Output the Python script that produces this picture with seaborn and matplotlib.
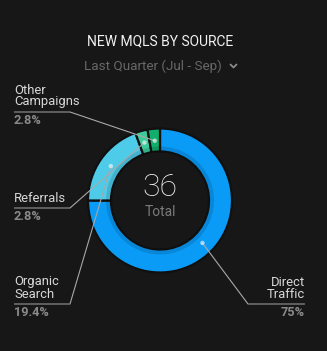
import numpy as np
import matplotlib
matplotlib.use("Agg")
import matplotlib.pyplot as plt
import seaborn as sns

# Lead sources for the quarter, clockwise from 12 o'clock
sources = ["Direct Traffic", "Organic Search", "Referrals", "Other Campaigns"]
label_lines = [["Direct", "Traffic"], ["Organic", "Search"], ["Referrals"], ["Other", "Campaigns"]]
counts = [27, 7, 1, 1]
colors = ["#0A9BF7", "#4FCBEA", "#3CCC9C", "#12AE6B"]

title = "NEW MQLS BY SOURCE"
period = "Last Quarter (Jul - Sep)"
center_caption = "Total"

BG = "#171717"
W, H = 327, 351

sns.set_theme(style="dark")
plt.rcParams["font.family"] = ["Roboto", "DejaVu Sans"]

fig = plt.figure(figsize=(W / 100, H / 100), dpi=100, facecolor=BG)
ax = fig.add_axes([0, 0, 1, 1])
ax.set_facecolor(BG)


def fy(y):
    """Convert a top-down pixel row into the axes' bottom-up coordinate."""
    return H - y


cx, cy = 160, fy(200.5)
r_out, ring_w = 72, 23

wedges, _ = ax.pie(
    counts, colors=colors, startangle=90, counterclock=False,
    radius=r_out, center=(cx, cy),
    wedgeprops=dict(width=ring_w, edgecolor="#101010", linewidth=1.6),
)
# subtle darker band along the inner edge of the ring
ax.pie(
    counts, colors=["#000000"] * len(counts), startangle=90, counterclock=False,
    radius=r_out - ring_w + 5, center=(cx, cy),
    wedgeprops=dict(width=5, edgecolor="none", linewidth=0, alpha=0.13),
)

ax.set_xlim(0, W)
ax.set_ylim(0, H)
ax.set_aspect("equal")
ax.axis("off")

total = sum(counts)


def fmt_pct(v):
    s = f"{100 * v / total:.1f}".rstrip("0").rstrip(".")
    return s + "%"


# label anchor: (underline x start, underline x end, underline row, side)
anchors = [
    (248, 305, 304, "right"),
    (14, 70, 304, "left"),
    (14, 70, 208, "left"),
    (14, 70, 112, "left"),
]

name_color = "#d8d8d8"
pct_color = "#8a8a8a"
rule_color = "#6c6c6c"
leader_color = "#a8a8a8"

for w, lines, n, (x0, x1, yu, side) in zip(wedges, label_lines, counts, anchors):
    mid = np.deg2rad((w.theta1 + w.theta2) / 2)
    r_dot = r_out - ring_w / 2 - 0.5
    dx, dy = cx + r_dot * np.cos(mid), cy + r_dot * np.sin(mid)
    end_x = x1 if side == "left" else x0
    ax.plot([dx, end_x], [dy, fy(yu)], color=leader_color, lw=0.8, zorder=5)
    ax.plot([x0, x1], [fy(yu), fy(yu)], color=rule_color, lw=1.2, zorder=5,
            solid_capstyle="butt")
    ax.scatter([dx], [dy], s=10, color="white", alpha=0.6, edgecolor="none", zorder=6)
    tx = x0 if side == "left" else x1
    ha = "left" if side == "left" else "right"
    for i, line in enumerate(reversed(lines)):
        ax.text(tx, fy(yu - 10 - 12 * i), line, ha=ha, va="center",
                fontsize=9.4, color=name_color)
    ax.text(tx, fy(yu + 9), fmt_pct(n), ha=ha, va="center",
            fontsize=9.2, fontweight="bold", color=pct_color)

# centre total
ax.text(cx, fy(188), f"{total}", ha="center", va="center", fontsize=23,
        fontweight="light", color="#f4f4f4")
ax.text(cx, fy(212.5), center_caption, ha="center", va="center", fontsize=10,
        color="#7a7a7a")

# header
ax.text(160, fy(41.5), title, ha="center", va="center", fontsize=10,
        color="#f2f2f2")
ax.text(153, fy(66), period, ha="center", va="center", fontsize=9.7,
        color="#676767")
ax.plot([230.5, 233.5, 236.5], [fy(64.5), fy(67.5), fy(64.5)],
        color="#8a8a8a", lw=1.3, solid_capstyle="round")

fig.savefig("out.png", dpi=100, facecolor=BG)
